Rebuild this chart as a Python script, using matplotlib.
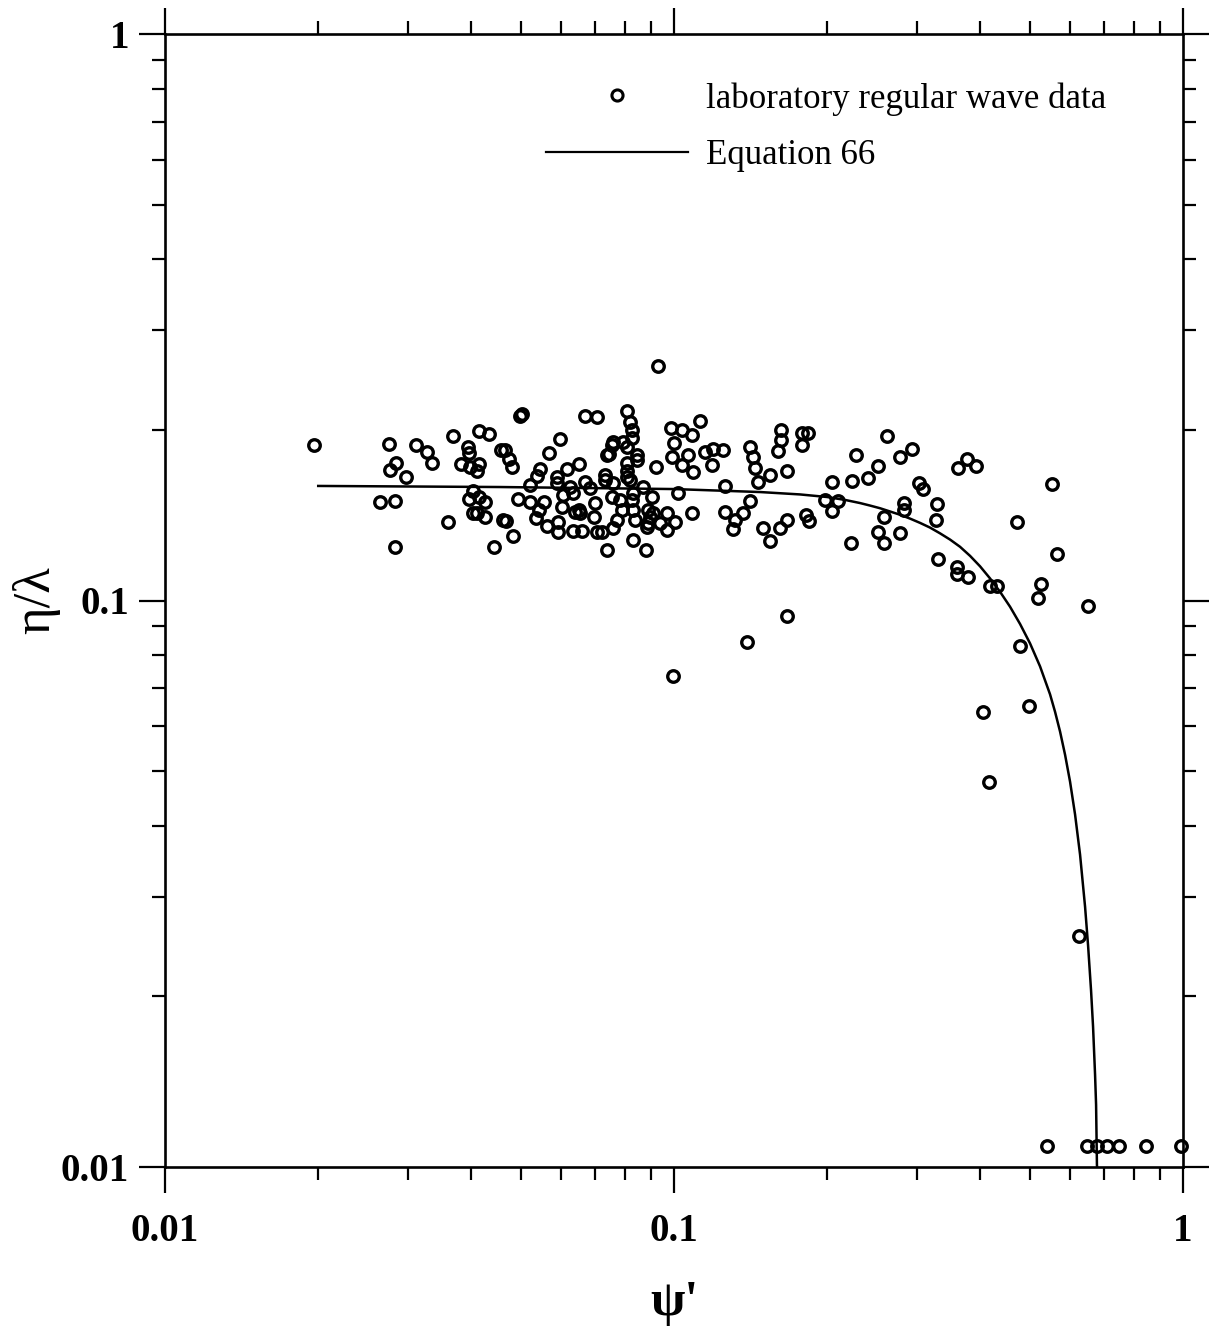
import matplotlib
matplotlib.use("Agg")
import matplotlib.pyplot as plt
from matplotlib.ticker import FixedLocator, FixedFormatter, LogLocator, NullFormatter
from matplotlib.lines import Line2D

# ---- data ----
psi = [0.0196, 0.0275, 0.0284, 0.0277, 0.0297, 0.0265, 0.0283, 0.0283, 0.0311, 0.0327,
       0.0334, 0.0368, 0.0393, 0.0395, 0.0381, 0.0397, 0.0414, 0.0411, 0.0413, 0.0433,
       0.0498, 0.0502, 0.0458, 0.0466, 0.0473, 0.0481, 0.0597, 0.0568, 0.0669, 0.0705,
       0.0650, 0.0546, 0.0538, 0.0521, 0.0403, 0.0395, 0.0413, 0.0425, 0.0410, 0.0425,
       0.0402, 0.0359, 0.0462, 0.0468, 0.0483, 0.0443, 0.0494, 0.0521, 0.0556, 0.0542,
       0.0535, 0.0562, 0.0593, 0.0593, 0.0634, 0.0659, 0.0705, 0.0721, 0.0738, 0.0602,
       0.0639, 0.0650, 0.0669, 0.0588, 0.0615, 0.0625, 0.0606, 0.0634, 0.0700, 0.0684,
       0.0733, 0.0738, 0.0932, 0.0810, 0.0820, 0.0826, 0.0826, 0.0795, 0.0760, 0.0755,
       0.0745, 0.0845, 0.0845, 0.0807, 0.0807, 0.0922, 0.0985, 0.1036, 0.1083, 0.1125,
       0.1001, 0.0990, 0.1067, 0.1036, 0.1091, 0.1151, 0.1195, 0.1250, 0.1189, 0.1410,
       0.1427, 0.1442, 0.1461, 0.1544, 0.1669, 0.1622, 0.1622, 0.1604, 0.1782, 0.1836,
       0.1782, 0.2275, 0.2617, 0.2514, 0.2408, 0.2234, 0.2046, 0.2780, 0.1259, 0.1017,
       0.0904, 0.0871, 0.0831, 0.0783, 0.0755, 0.0760, 0.0820, 0.1410, 0.1259, 0.1368,
       0.1318, 0.1308, 0.1083, 0.0967, 0.1005, 0.0939, 0.0969, 0.0890, 0.0897, 0.0884,
       0.0838, 0.0831, 0.0881, 0.0772, 0.0760, 0.1494, 0.1615, 0.1664, 0.1544, 0.1817,
       0.1844, 0.1981, 0.2103, 0.2046, 0.2587, 0.2231, 0.2514, 0.2584, 0.2780, 0.2939,
       0.3033, 0.3085, 0.2835, 0.2835, 0.3290, 0.3266, 0.3769, 0.3609, 0.3916, 0.5530,
       0.4713, 0.5648, 0.3306, 0.3593, 0.3593, 0.3786, 0.4177, 0.4306, 0.5255, 0.5198,
       0.6517, 0.4785, 0.1664, 0.1393, 0.0997, 0.4053, 0.4990, 0.4164, 0.6257, 0.5413,
       0.6487, 0.6768, 0.7083, 0.7498, 0.8461, 0.9898,
       0.0588, 0.0731, 0.0826, 0.0807, 0.0696, 0.0790, 0.0831, 0.0910, 0.0654, 0.0890,
       0.0807]

eta_lambda = [0.188, 0.189, 0.175, 0.170, 0.165, 0.149, 0.150, 0.1245, 0.188, 0.183,
              0.175, 0.195, 0.187, 0.182, 0.174, 0.172, 0.174, 0.169, 0.199, 0.197,
              0.212, 0.213, 0.184, 0.184, 0.178, 0.172, 0.193, 0.182, 0.212, 0.211,
              0.174, 0.171, 0.166, 0.160, 0.156, 0.151, 0.1525, 0.1495, 0.1426, 0.1406,
              0.1426, 0.1377, 0.1387, 0.138, 0.130, 0.1245, 0.151, 0.149, 0.1495, 0.1445,
              0.1397, 0.1356, 0.1377, 0.1323, 0.1328, 0.1328, 0.1323, 0.1323, 0.1228, 0.1465,
              0.1435, 0.1445, 0.162, 0.1654, 0.171, 0.1588, 0.1535, 0.1545, 0.1485, 0.1578,
              0.1666, 0.1807, 0.259, 0.216, 0.207, 0.200, 0.1933, 0.1907, 0.1907, 0.188,
              0.1814, 0.1807, 0.177, 0.1746, 0.169, 0.1723, 0.202, 0.200, 0.196, 0.2077,
              0.1894, 0.1789, 0.1807, 0.1734, 0.1688, 0.1831, 0.1849, 0.1844, 0.1734, 0.1869,
              0.1789, 0.1712, 0.1621, 0.1666, 0.1695, 0.200, 0.192, 0.1836, 0.1973, 0.1973,
              0.1881, 0.1807, 0.1954, 0.1728, 0.1643, 0.1627, 0.1618, 0.1789, 0.1593, 0.1545,
              0.1525, 0.1588, 0.1545, 0.1505, 0.1525, 0.161, 0.1632, 0.1499, 0.1432, 0.1426,
              0.1387, 0.1336, 0.1426, 0.1426, 0.1377, 0.1372, 0.1332, 0.1445, 0.1406, 0.135,
              0.1387, 0.1279, 0.1228, 0.1387, 0.1341, 0.1341, 0.1341, 0.1387, 0.1274, 0.1417,
              0.1383, 0.1505, 0.1499, 0.1441, 0.1402, 0.1262, 0.1323, 0.1262, 0.1314, 0.1849,
              0.161, 0.1573, 0.1485, 0.1445, 0.1479, 0.1387, 0.1775, 0.1716, 0.173, 0.1606,
              0.1377, 0.1208, 0.1185, 0.1148, 0.1113, 0.110, 0.1061, 0.1062, 0.1068, 0.1011,
              0.0979, 0.0832, 0.0939, 0.0846, 0.0737, 0.0635, 0.0652, 0.0478, 0.0256, 0.0109,
              0.0109, 0.0109, 0.0109, 0.0109, 0.0109, 0.0109,
              0.161, 0.163, 0.1505, 0.1654, 0.1406, 0.1445, 0.1445, 0.1426, 0.1426, 0.1369,
              0.1869]

# Equation 66 curve
psi_eq = [0.0200, 0.0455, 0.1000, 0.1476, 0.1768, 0.1998, 0.2168, 0.2320, 0.2427, 0.2540,
          0.2657, 0.2780, 0.2909, 0.3043, 0.3184, 0.3331, 0.3486, 0.3647, 0.3816, 0.3993,
          0.4177, 0.4371, 0.4573, 0.4785, 0.5006, 0.5238, 0.5480, 0.5606, 0.5734, 0.5866,
          0.5999, 0.6137, 0.6277, 0.6421, 0.6509, 0.6597, 0.6657, 0.6718, 0.6749, 0.6775, 0.6780]
eta_eq = [0.1593, 0.1586, 0.1573, 0.1554, 0.1539, 0.1523, 0.1505, 0.1486, 0.1471, 0.1455,
          0.1436, 0.1417, 0.1395, 0.1371, 0.1345, 0.1314, 0.1281, 0.1244, 0.1199, 0.1149,
          0.1094, 0.1036, 0.0975, 0.0909, 0.0840, 0.0765, 0.0683, 0.0636, 0.0587, 0.0534,
          0.0479, 0.0419, 0.0356, 0.0288, 0.0246, 0.0205, 0.0177, 0.01455, 0.01288, 0.01009, 0.0100]

major_ticks = [0.01, 0.1, 1]
major_labels = ["0.01", "0.1", "1"]

legend_labels = ["laboratory regular wave data", "Equation 66"]

# ---- figure ----
W, H = 1209, 1333
fig = plt.figure(figsize=(W / 100, H / 100), dpi=100)
ax = fig.add_axes([165 / W, 1 - 1167 / H, (1183 - 165) / W, (1167 - 34) / H])

serif = "Liberation Serif"

ax.plot(psi, eta_lambda, linestyle="none", marker="o", markersize=8.3,
        markerfacecolor="none", markeredgecolor="black", markeredgewidth=2.4, clip_on=False)
ax.plot(psi_eq, eta_eq, color="black", linewidth=1.8)

ax.set_xscale("log")
ax.set_yscale("log")
ax.set_xlim(0.01, 1)
ax.set_ylim(0.01, 1)

for axis in (ax.xaxis, ax.yaxis):
    axis.set_major_locator(FixedLocator(major_ticks))
    axis.set_major_formatter(FixedFormatter(major_labels))
    axis.set_minor_locator(LogLocator(base=10, subs=range(2, 10)))
    axis.set_minor_formatter(NullFormatter())

ax.tick_params(which="both", top=True, right=True, direction="out", width=1.6, color="black")
ax.tick_params(which="major", length=19)
ax.tick_params(which="minor", length=9.5)
ax.tick_params(axis="x", which="major", pad=14)
ax.tick_params(axis="y", which="major", pad=7)

for lab in ax.get_xticklabels() + ax.get_yticklabels():
    lab.set_fontfamily(serif)
    lab.set_fontweight("bold")
    lab.set_fontsize(28)

for sp in ax.spines.values():
    sp.set_linewidth(1.9)

ax.set_xlabel("ψ'", fontfamily=serif, fontsize=36, fontweight="bold", labelpad=22)
ax.set_ylabel("η/λ", fontfamily=serif, fontsize=38, labelpad=0)

handles = [Line2D([], [], linestyle="none", marker="o", markersize=8, markerfacecolor="none",
                  markeredgecolor="black", markeredgewidth=2.2),
           Line2D([], [], color="black", linewidth=1.6)]
fig.legend(handles, legend_labels, loc="upper left", bbox_to_anchor=(546 / W, 1 - 82 / H),
           frameon=False, borderpad=0, borderaxespad=0, handlelength=4.1, handletextpad=0.5,
           labelspacing=0.68, numpoints=1, prop={"family": serif, "size": 25})

fig.savefig("out.png", dpi=100)
